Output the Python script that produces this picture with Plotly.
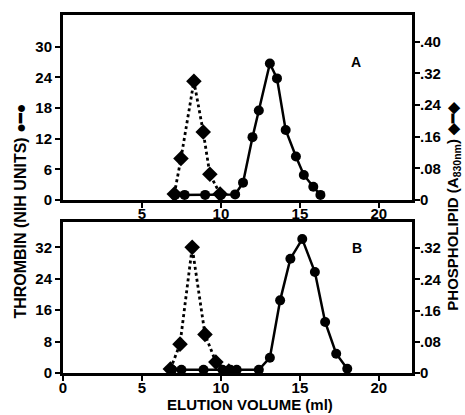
import plotly.graph_objects as go

# ---- data ----
A_thr_x = [7.1, 7.7, 9.0, 10.0, 10.9, 11.4, 12.0, 12.4, 13.1, 13.55, 14.1, 14.75, 15.25, 15.85, 16.3]
A_thr_y = [1.0, 1.0, 1.0, 1.0, 1.1, 3.4, 12.3, 17.5, 26.7, 23.8, 13.7, 8.5, 4.9, 2.6, 1.0]
A_pl_x = [7.05, 7.47, 8.29, 8.88, 9.3, 9.95]
A_pl_y = [0.015, 0.105, 0.300, 0.172, 0.065, 0.015]

B_thr_x = [6.9, 7.5, 8.9, 10.1, 10.6, 11.0, 12.4, 13.1, 13.75, 14.4, 15.15, 15.95, 16.6, 17.3, 18.0]
B_thr_y = [0.8, 0.8, 0.8, 0.8, 0.8, 0.8, 0.8, 3.9, 18.5, 29.1, 34.1, 25.7, 13.0, 4.9, 1.1]
B_pl_x = [6.8, 7.41, 8.18, 8.99, 9.68, 10.5]
B_pl_y = [0.01, 0.074, 0.322, 0.099, 0.028, 0.005]

x_ticks_A = [5, 10, 15, 20]
x_ticks_B = [0, 5, 10, 15, 20]
yA_left_ticks = [0, 6, 12, 18, 24, 30]
yA_right_ticks = [0, 0.08, 0.16, 0.24, 0.32, 0.40]
yA_right_text = ["0", ".08", ".16", ".24", ".32", ".40"]
yB_left_ticks = [0, 8, 16, 24, 32]
yB_right_ticks = [0, 0.08, 0.16, 0.24, 0.32]
yB_right_text = ["0", ".08", ".16", ".24", ".32"]

FONT = "Liberation Sans"
tickfont = dict(family=FONT, size=15, color="black", weight="bold")

fig = go.Figure()

solid = dict(color="black", width=2.5)
dotted = dict(color="black", width=2.8, dash="dot")
circ = dict(symbol="circle", size=10, color="black")
diam = dict(symbol="diamond", size=12, color="black")

fig.add_trace(go.Scatter(x=A_pl_x, y=A_pl_y, xaxis="x", yaxis="y2", mode="lines+markers",
                         line=dotted, marker=diam, showlegend=False, hoverinfo="skip"))
fig.add_trace(go.Scatter(x=A_thr_x, y=A_thr_y, xaxis="x", yaxis="y", mode="lines+markers",
                         line=solid, marker=circ, showlegend=False, hoverinfo="skip"))
fig.add_trace(go.Scatter(x=B_pl_x, y=B_pl_y, xaxis="x2", yaxis="y4", mode="lines+markers",
                         line=dotted, marker=diam, showlegend=False, hoverinfo="skip"))
fig.add_trace(go.Scatter(x=B_thr_x, y=B_thr_y, xaxis="x2", yaxis="y3", mode="lines+markers",
                         line=solid, marker=circ, showlegend=False, hoverinfo="skip"))

axcommon = dict(showline=True, linecolor="black", linewidth=3, showgrid=False, zeroline=False,
                ticks="outside", ticklen=5, tickwidth=2, tickcolor="black", tickfont=tickfont,
                automargin=False)

domA = [0.4832, 1.0]
domB = [0.0, 0.4218]

fig.update_layout(
    width=465, height=415,
    margin=dict(l=63, r=53, t=15, b=42, autoexpand=False),
    paper_bgcolor="white", plot_bgcolor="white",
    xaxis=dict(axcommon, domain=[0, 1], anchor="y", range=[0, 22.1], tickvals=x_ticks_A, mirror=True,
               ticklabelstandoff=-7),
    xaxis2=dict(axcommon, domain=[0, 1], anchor="y3", range=[0, 22.1], tickvals=x_ticks_B, mirror=True,
                ticklabelstandoff=-6),
    yaxis=dict(axcommon, domain=domA, anchor="x", range=[0, 36.2], tickvals=yA_left_ticks),
    yaxis2=dict(axcommon, domain=domA, anchor="x", overlaying="y", side="right", range=[0, 0.4675],
                tickvals=yA_right_ticks, ticktext=yA_right_text, ticklabelstandoff=-3),
    yaxis3=dict(axcommon, domain=domB, anchor="x2", range=[0, 38.45], tickvals=yB_left_ticks),
    yaxis4=dict(axcommon, domain=domB, anchor="x2", overlaying="y3", side="right", range=[0, 0.387],
                tickvals=yB_right_ticks, ticktext=yB_right_text, ticklabelstandoff=-3),
)

titlefont = dict(family=FONT, size=16, color="black", weight="bold")
fig.add_annotation(text="THROMBIN (NIH UNITS) ●━●", xref="paper", yref="paper", x=-0.123, y=0.451,
                   textangle=-90, showarrow=False, font=titlefont, xanchor="center", yanchor="middle")
fig.add_annotation(text="PHOSPHOLIPID (A<sub>830nm</sub>) ◆━◆", xref="paper", yref="paper", x=1.118, y=0.465,
                   textangle=-90, showarrow=False, font=dict(titlefont, size=15), xanchor="center", yanchor="middle")
fig.add_annotation(text="ELUTION VOLUME (ml)", xref="paper", yref="paper", x=0.536, y=-0.088,
                   showarrow=False, font=dict(titlefont, size=15), xanchor="center", yanchor="middle")
fig.add_annotation(text="A", xref="paper", yref="paper", x=0.860, y=0.897,
                   showarrow=False, font=dict(family=FONT, size=14, color="black", weight="bold"))
fig.add_annotation(text="B", xref="paper", yref="paper", x=0.862, y=0.321,
                   showarrow=False, font=dict(family=FONT, size=14, color="black", weight="bold"))

fig.write_html("out.html", config={"displayModeBar": False},
               post_script="document.body.style.margin='0';document.body.style.overflow='hidden';")
